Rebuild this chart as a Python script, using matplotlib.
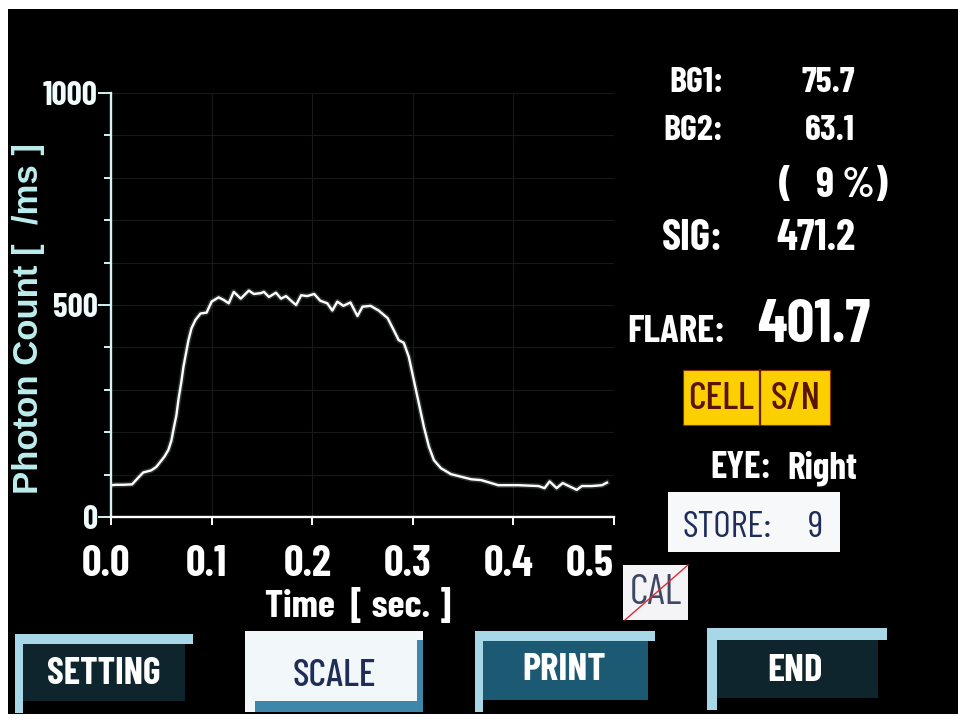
import matplotlib
matplotlib.use("Agg")
import matplotlib.pyplot as plt
from matplotlib.patches import Rectangle
from matplotlib.lines import Line2D
from matplotlib.ticker import MultipleLocator, FixedLocator
from matplotlib.transforms import ScaledTranslation

# ---- measurement trace -------------------------------------------------
time_s = [0.000, 0.005, 0.012, 0.021, 0.026, 0.032, 0.040, 0.045, 0.049, 0.053,
          0.057, 0.060, 0.062, 0.065, 0.067, 0.070, 0.072, 0.075, 0.077, 0.080,
          0.084, 0.089, 0.095, 0.100, 0.107, 0.112, 0.117, 0.122, 0.129, 0.137,
          0.142, 0.149, 0.152, 0.157, 0.164, 0.169, 0.174, 0.180, 0.184, 0.189,
          0.195, 0.202, 0.208, 0.215, 0.220, 0.225, 0.231, 0.238, 0.245, 0.250,
          0.258, 0.266, 0.275, 0.281, 0.286, 0.291, 0.296, 0.301, 0.306, 0.311,
          0.316, 0.321, 0.328, 0.338, 0.348, 0.358, 0.368, 0.385, 0.405, 0.425,
          0.431, 0.436, 0.443, 0.449, 0.456, 0.463, 0.468, 0.478, 0.488, 0.493]
photon_count = [75, 76, 76, 77, 90, 105, 110, 118, 130, 142,
                158, 180, 205, 240, 276, 320, 354, 392, 417, 445,
                465, 480, 482, 508, 518, 512, 504, 531, 515, 534,
                526, 528, 531, 519, 529, 515, 521, 508, 500, 523,
                521, 526, 510, 504, 487, 508, 498, 506, 474, 496,
                498, 487, 469, 441, 417, 411, 378, 323, 268, 213,
                166, 134, 115, 101, 95, 89, 87, 75, 75, 73,
                68, 84, 68, 80, 72, 64, 73, 73, 75, 81]

x_ticks = [0.0, 0.1, 0.2, 0.3, 0.4, 0.5]
x_tick_labels = ["0.0", "0.1", "0.2", "0.3", "0.4", "0.5"]
y_ticks = [0, 500, 1000]
y_tick_labels = ["0", "500", "1000"]

# ---- readout values ----------------------------------------------------
bg1, bg2, bg_ratio_pct, sig, flare = "75.7", "63.1", "9", "471.2", "401.7"
eye = "Right"
store_no = "9"
buttons = ["SETTING", "SCALE", "PRINT", "END"]

# ---- styling -------------------------------------------------------------
W, H = 958, 722
COND = ["Barlow Condensed", "Liberation Sans Narrow", "DejaVu Sans"]
SANS = ["Liberation Sans", "DejaVu Sans"]
AXIS_CYAN = "#d4f2f2"
LIGHT_BAR = "#a8d8e8"
DARK_BODY = "#0f252d"
PRINT_BODY = "#1c5a74"
NAVY = "#1f2d58"


def fx(px):
    return px / W


def fy(py):
    return 1 - py / H


fig = plt.figure(figsize=(W / 100, H / 100), dpi=100, facecolor="white")


def box(x0, y0, x1, y1, zorder=1, **kw):
    fig.patches.append(Rectangle((fx(x0), fy(y1)), (x1 - x0) / W, (y1 - y0) / H,
                                 transform=fig.transFigure, figure=fig,
                                 zorder=zorder, **kw))


def label(x, y, s, **kw):
    kw.setdefault("family", COND)
    kw.setdefault("color", "white")
    kw.setdefault("fontweight", "bold")
    kw.setdefault("zorder", 4)
    fig.text(fx(x), fy(y), s, **kw)


def rule(x0, y0, x1, y1, **kw):
    fig.add_artist(Line2D([fx(x0), fx(x1)], [fy(y0), fy(y1)],
                          transform=fig.transFigure, zorder=5, **kw))


# screen background
box(8, 9, 958, 714, zorder=-5, facecolor="black", edgecolor="none")

# ---- plot area -----------------------------------------------------------
ax = fig.add_axes([fx(111), fy(517), (614 - 111) / W, (517 - 93) / H])
ax.set_facecolor("none")
ax.plot(time_s, photon_count, color="#dff6f6", lw=4.0, alpha=0.18,
        solid_joinstyle="round")
ax.plot(time_s, photon_count, color="white", lw=1.7, solid_joinstyle="round")

ax.set_xlim(0, 0.5)
ax.set_ylim(0, 1000)
ax.xaxis.set_major_locator(FixedLocator(x_ticks))
ax.set_xticklabels(x_tick_labels)
ax.yaxis.set_major_locator(FixedLocator(y_ticks))
ax.set_yticklabels(y_tick_labels)
ax.yaxis.set_minor_locator(MultipleLocator(100))

ax.grid(True, which="major", axis="x", color="#171919", lw=0.8)
ax.grid(True, which="both", axis="y", color="#171919", lw=0.8)
ax.set_axisbelow(True)

for side in ("top", "right"):
    ax.spines[side].set_visible(False)
ax.spines["left"].set_color(AXIS_CYAN)
ax.spines["bottom"].set_color("white")
ax.spines["left"].set_linewidth(1.7)
ax.spines["bottom"].set_linewidth(1.7)

ax.tick_params(axis="y", which="major", direction="out", length=9.5, width=1.4,
               color=AXIS_CYAN, pad=0, labelsize=24, labelcolor="#f0fbfb")
ax.tick_params(axis="y", which="minor", direction="out", length=5, width=1.4,
               color=AXIS_CYAN)
ax.tick_params(axis="x", which="major", direction="out", length=6, width=1.4,
               color="white", pad=14, labelsize=31, labelcolor="white")

for t in ax.get_yticklabels():
    t.set_family(COND)
    t.set_fontweight("bold")
shift = ScaledTranslation(-5 / 100, 0, fig.dpi_scale_trans)
xtl = ax.get_xticklabels()
for t in xtl:
    t.set_family(COND)
    t.set_fontweight("bold")
    t.set_transform(t.get_transform() + shift)
xtl[-1].set_ha("right")
xtl[-1].set_transform(xtl[-1].get_transform()
                      + ScaledTranslation(5 / 100, 0, fig.dpi_scale_trans))

ax.set_xlabel("Time  [ sec. ]", family=COND, fontweight="bold", fontsize=28,
              color="white")
ax.xaxis.set_label_coords((358 - 111) / 503, (517 - 588) / 424)

fig.text(fx(29), fy(318), "Photon Count [  /ms ]", rotation=90, ha="center",
         va="center", family=SANS, fontweight="bold", fontsize=25,
         color="#bdeeee")

# ---- readout panel -------------------------------------------------------
label(723, 92, "BG1:", ha="right", fontsize=26)
label(855, 92, bg1, ha="right", fontsize=26)
label(723, 140, "BG2:", ha="right", fontsize=26)
label(855, 140, bg2, ha="right", fontsize=26)
label(779, 197, "(", ha="left", fontsize=30)
label(888, 197, f"{bg_ratio_pct} %)", ha="right", fontsize=30)
label(723, 250, "SIG:", ha="right", fontsize=31)
label(855, 250, sig, ha="right", fontsize=31)
label(725, 342, "FLARE:", ha="right", fontsize=28)
label(870, 342, flare, ha="right", fontsize=44)

# CELL / S/N indicators
box(683, 370, 760, 425, zorder=2, facecolor="#fccf00", edgecolor="#8a3300", lw=0.8)
box(760, 370, 830, 425, zorder=2, facecolor="#fccf00", edgecolor="#8a3300", lw=0.8)
rule(760, 370, 760, 425, color="#6a1e00", lw=1.6)
label(721, 399, "CELL", ha="center", va="center", fontsize=28, color="#5a1406",
      fontweight="medium")
label(796, 399, "S/N", ha="center", va="center", fontsize=28, color="#5a1406",
      fontweight="medium")

label(710, 478, "EYE:", ha="left", fontsize=27)
label(787, 478, eye, ha="left", fontsize=27)

# store counter
box(668, 492, 840, 552, zorder=2, facecolor="#f6f8fa", edgecolor="none")
label(683, 537, "STORE:", ha="left", fontsize=27, color=NAVY, fontweight="normal")
label(823, 537, store_no, ha="right", fontsize=27, color=NAVY, fontweight="normal")

# calibration flag (crossed out)
box(623, 565, 688, 620, zorder=2, facecolor="#f4f4f6", edgecolor="none")
label(656, 593, "CAL", ha="center", va="center", fontsize=30, color="#3e4866",
      fontweight="normal")
rule(625, 620, 688, 565, color="#e02a36", lw=1.0)

# ---- soft keys -----------------------------------------------------------
# SETTING
box(15, 634, 193, 644, facecolor=LIGHT_BAR, edgecolor="none")
box(15, 634, 23, 713, facecolor=LIGHT_BAR, edgecolor="none")
box(23, 644, 185, 701, facecolor=DARK_BODY, edgecolor="none")
label(104, 674, buttons[0], ha="center", va="center", fontsize=27)
# SCALE (selected)
box(245, 631, 423, 712, facecolor="#f2f7f9", edgecolor="none")
box(255, 701, 423, 712, facecolor="#3f87aa", edgecolor="none")
box(417, 640, 423, 712, facecolor="#3f87aa", edgecolor="none")
label(334, 676, buttons[1], ha="center", va="center", fontsize=28, color=NAVY,
      fontweight="medium")
# PRINT
box(475, 631, 655, 641, facecolor=LIGHT_BAR, edgecolor="none")
box(475, 631, 483, 712, facecolor=LIGHT_BAR, edgecolor="none")
box(483, 641, 648, 700, facecolor=PRINT_BODY, edgecolor="none")
label(564, 670, buttons[2], ha="center", va="center", fontsize=28)
# END
box(707, 628, 887, 640, facecolor=LIGHT_BAR, edgecolor="none")
box(707, 628, 717, 710, facecolor=LIGHT_BAR, edgecolor="none")
box(717, 640, 878, 698, facecolor=DARK_BODY, edgecolor="none")
label(795, 671, buttons[3], ha="center", va="center", fontsize=28)

fig.savefig("out.png", dpi=100, facecolor=fig.get_facecolor())
